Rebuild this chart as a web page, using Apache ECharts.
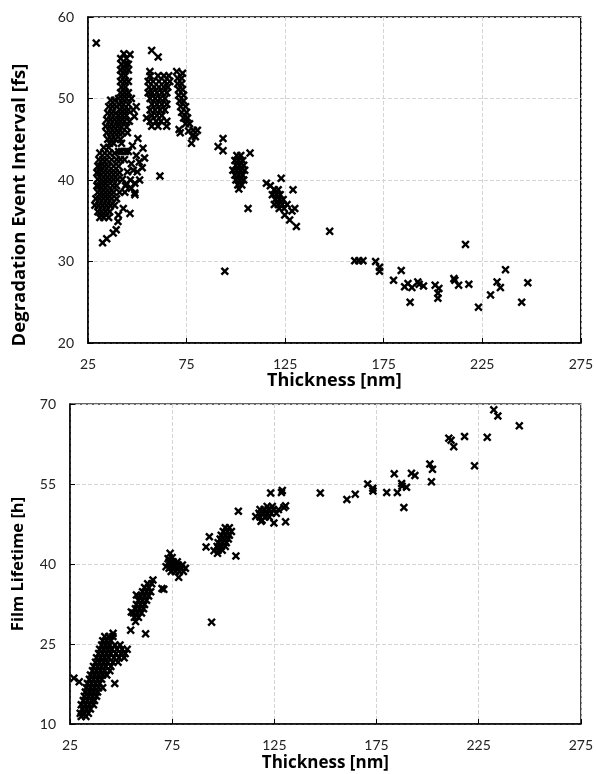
<!DOCTYPE html>
<html>
<head>
<meta charset="utf-8">
<script src="https://cdn.jsdelivr.net/npm/echarts@6/dist/echarts.min.js"></script>
<style>
  html, body { margin: 0; padding: 0; background: #fff; }
  #chart { width: 596px; height: 774px; }
</style>
</head>
<body>
<div id="chart"></div>
<script>
// Thickness axis ticks (nm), shared by both panels
const thicknessTicks = [25, 75, 125, 175, 225, 275];
const intervalTicks = [20, 30, 40, 50, 60];
const lifetimeTicks = [10, 25, 40, 55, 70];

// Upper panel: [thickness nm, degradation event interval fs]
const intervalPoints = [
  [29.2,56.8],
  // thin films, dense group
  [33.0,44.0],[35.5,44.0],
  [31.0,43.3],[33.5,43.3],[36.0,43.3],[38.5,43.3],
  [30.5,42.5],[32.5,42.5],[34.5,42.5],[37.0,42.5],[39.5,42.5],
  [30.0,41.7],[31.5,41.7],[33.5,41.7],[35.5,41.7],[38.0,41.7],[40.5,41.7],
  [29.5,40.9],[31.0,40.9],[33.0,40.9],[35.0,40.9],[37.0,40.9],[39.0,40.9],[41.0,40.9],
  [30.0,40.1],[32.0,40.1],[34.0,40.1],[36.0,40.1],[38.0,40.1],[40.0,40.1],[42.5,40.1],
  [29.5,39.3],[31.0,39.3],[33.0,39.3],[35.0,39.3],[37.5,39.3],[39.5,39.3],[44.0,39.3],
  [30.0,38.5],[32.0,38.5],[34.0,38.5],[36.0,38.5],[38.0,38.5],[41.0,38.5],[43.7,38.5],
  [29.0,37.7],[31.0,37.7],[33.0,37.7],[35.0,37.7],[37.0,37.7],[39.5,37.7],
  [28.5,36.9],[30.5,36.9],[32.5,36.9],[34.5,36.9],[36.5,36.9],[38.5,36.9],
  [30.0,36.1],[32.0,36.1],[34.0,36.1],[36.0,36.1],[42.9,36.5],
  [31.0,35.4],[33.0,35.4],[35.5,35.4],[40.4,35.7],
  [46.3,35.9],[48.8,38.2],[48.8,39.6],[40.2,34.9],[39.3,33.9],[37.8,33.5],[34.5,32.8],[32.4,32.3],
  [50.3,45.1],[52.9,43.9],[53.7,42.7],[51.2,40.0],[48.7,38.4],
  [47.5,44.2],[49.5,43.0],[51.0,42.2],[47.0,42.0],[45.5,43.5],[48.0,41.2],[50.0,41.0],
  [46.5,40.0],[45.0,41.0],[52.5,41.5],[44.5,39.5],[47.0,39.0],
  [36.5,49.8],[38.5,49.8],
  [35.5,49.0],[37.5,49.0],[39.5,49.0],
  [35.0,48.2],[37.0,48.2],[39.0,48.2],
  [34.5,47.4],[36.5,47.4],[38.5,47.4],[40.5,47.4],
  [34.0,46.6],[36.0,46.6],[38.0,46.6],[40.0,46.6],
  [34.5,45.8],[36.5,45.8],[38.5,45.8],[40.5,45.8],
  [35.0,45.0],[37.0,45.0],[39.0,45.0],[41.5,45.0],
  [36.0,44.5],[38.0,44.5],[42.0,44.5],
  [40.5,43.5],[42.0,43.5],[44.0,43.5],
  [41.5,42.5],[43.5,42.5],
  [43.2,55.5],[46.3,55.4],
  [41.6,54.9],[44.5,54.9],
  [42.0,54.2],[44.0,54.2],[45.5,54.2],
  [41.5,53.5],[43.5,53.5],[45.5,53.5],
  [42.0,52.8],[44.0,52.8],
  [41.5,52.1],[43.5,52.1],[45.5,52.1],
  [42.0,51.4],[44.0,51.4],
  [41.5,50.7],[43.5,50.7],[45.5,50.7],
  [40.5,50.0],[42.5,50.0],[44.5,50.0],[47.0,50.0],
  [41.0,49.3],[43.0,49.3],[45.5,49.3],[49.5,49.0],
  [41.5,48.6],[43.5,48.6],[45.5,48.6],[48.0,48.6],
  [40.5,47.9],[42.5,47.9],[44.5,47.9],[48.5,47.8],
  [41.5,47.2],[43.5,47.2],[46.0,47.2],
  [42.0,46.5],[44.6,46.5],
  [42.5,45.8],[45.0,45.8],
  // mid-range group
  [57.3,55.9],[60.6,55.1],[56.4,53.3],
  [56.5,52.8],[60.5,52.8],[63.5,52.8],[66.0,52.8],
  [55.5,52.1],[58.0,52.1],[61.0,52.1],[64.0,52.1],[66.5,52.1],
  [56.0,51.4],[58.5,51.4],[61.0,51.4],[63.5,51.4],[65.5,51.4],
  [55.5,50.7],[57.5,50.7],[60.0,50.7],[62.5,50.7],[65.0,50.7],
  [56.5,50.0],[59.0,50.0],[61.5,50.0],[64.0,50.0],
  [57.5,49.3],[60.0,49.3],[62.5,49.3],[65.0,49.3],
  [56.5,48.6],[59.0,48.6],[61.5,48.6],[64.0,48.6],
  [57.5,47.9],[60.0,47.9],[62.5,47.9],
  [56.5,47.2],[59.5,47.2],[62.0,47.2],[65.0,47.2],
  [57.3,46.6],[60.5,46.6],[64.9,46.6],
  [54.7,47.6],[61.5,40.5],
  [70.0,53.3],[73.0,53.1],
  [70.5,52.5],[72.5,52.5],
  [70.5,51.8],[72.5,51.8],
  [71.0,51.1],[73.0,51.1],
  [71.0,50.4],[73.5,50.4],
  [71.5,49.7],[73.5,49.7],
  [72.0,49.0],[74.5,49.0],
  [72.5,48.3],[75.0,48.3],
  [73.5,47.6],[75.5,47.6],
  [74.5,46.9],[76.5,46.9],
  [71.2,46.2],[71.8,45.8],[78.4,46.1],[80.5,46.1],[77.5,44.5],[79.5,45.3],[76.0,46.0],[78.0,45.4],
  [93.5,45.1],[91.0,44.1],[93.5,43.6],[94.4,28.8],
  [107.2,43.3],
  [100.5,43.0],[102.5,43.0],
  [99.5,42.4],[101.5,42.4],[103.5,42.4],
  [100.0,41.8],[102.0,41.8],[104.0,41.8],
  [98.5,41.2],[100.5,41.2],[102.5,41.2],[104.5,41.2],
  [99.5,40.6],[101.5,40.6],[103.5,40.6],
  [100.0,40.0],[102.0,40.0],[104.0,40.0],
  [101.0,39.4],[103.0,39.4],[101.5,38.9],
  [106.2,36.5],
  [115.5,39.6],[117.5,39.3],[123.0,40.2],[129.0,38.8],
  [119.5,38.8],[121.5,38.8],
  [118.5,38.2],[120.5,38.2],[122.5,38.2],
  [120.0,37.6],[122.0,37.6],[124.0,37.6],
  [119.5,37.0],[121.5,37.0],[123.5,37.0],[126.0,37.0],
  [122.0,36.5],[124.5,36.5],[129.9,36.5],
  [124.8,35.7],[127.3,35.1],[130.7,34.3],[128.5,36.2],
  // thick films
  [147.6,33.7],[160.3,30.1],[162.4,30.1],[164.5,30.1],[170.9,30.0],[172.9,29.3],[172.9,28.8],
  [180.0,27.7],[183.9,28.9],[185.6,26.9],[187.3,27.3],[188.4,25.0],[189.3,26.8],[192.3,27.5],
  [193.0,27.2],[195.2,27.0],[201.1,27.1],[203.0,26.7],[202.5,26.1],[202.5,25.5],[210.6,27.9],
  [211.1,27.7],[213.0,27.1],[216.5,32.1],[218.2,27.2],[223.1,24.4],[229.2,25.9],[232.5,27.5],
  [234.2,26.8],[236.8,29.0],[245.0,25.0],[248.1,27.4]
];

// Lower panel: [thickness nm, film lifetime h]
const lifetimePoints = [
  [26.9,18.6],[29.5,17.9],
  [30.5,11.4],[32.8,11.4],
  [30.0,12.0],[32.0,12.0],[34.0,12.0],
  [31.0,12.8],[33.0,12.8],[35.0,12.8],
  [30.5,13.6],[32.5,13.6],[34.5,13.6],[36.5,13.6],
  [31.5,14.4],[33.5,14.4],[35.5,14.4],[37.0,14.4],
  [32.0,15.2],[34.0,15.2],[36.0,15.2],[38.0,15.2],
  [32.5,16.0],[34.5,16.0],[36.5,16.0],[38.5,16.0],
  [33.0,16.8],[35.0,16.8],[37.0,16.8],[39.0,16.8],[41.0,16.8],
  [33.5,17.6],[35.5,17.6],[37.5,17.6],[39.5,17.6],[46.9,17.6],
  [34.5,18.4],[36.5,18.4],[38.5,18.4],[40.5,18.4],
  [35.0,19.2],[37.0,19.2],[39.0,19.2],[41.0,19.2],[43.0,19.2],
  [36.0,20.0],[38.0,20.0],[40.0,20.0],[42.0,20.0],[44.5,20.0],
  [36.5,20.8],[38.5,20.8],[40.5,20.8],[42.5,20.8],[45.0,20.8],
  [37.5,21.6],[39.5,21.6],[41.5,21.6],[43.5,21.6],[46.0,21.6],[48.5,21.6],
  [38.0,22.4],[40.0,22.4],[42.0,22.4],[44.0,22.4],[46.5,22.4],[49.0,22.4],[51.5,22.4],
  [39.0,23.2],[41.0,23.2],[43.0,23.2],[45.0,23.2],[47.5,23.2],[50.0,23.2],[52.0,23.2],
  [39.5,24.0],[41.5,24.0],[43.5,24.0],[45.5,24.0],[48.0,24.0],[50.5,24.0],[53.0,24.0],
  [40.5,24.8],[42.5,24.8],[44.5,24.8],[47.0,24.8],[49.5,24.8],
  [41.0,25.6],[43.0,25.6],[45.0,25.6],
  [42.0,26.4],[44.0,26.4],[46.0,26.4],[46.1,27.0],
  [54.7,27.6],[62.0,26.9],[57.1,29.2],[55.0,31.0],[57.5,34.2],[65.6,37.0],
  [56.5,30.0],[58.5,30.0],
  [56.0,30.8],[58.0,30.8],[60.0,30.8],
  [57.0,31.6],[59.0,31.6],[61.0,31.6],
  [57.5,32.4],[59.5,32.4],[61.5,32.4],
  [58.5,33.2],[60.5,33.2],[62.5,33.2],
  [59.5,34.0],[61.5,34.0],[63.5,34.0],
  [60.5,34.8],[62.5,34.8],[64.5,34.8],
  [61.5,35.6],[63.5,35.6],
  [63.0,36.3],[65.0,36.3],
  [70.9,35.25],[70.0,35.4],
  [74.0,42.0],[73.0,41.0],[75.0,41.2],
  [73.5,40.4],[75.5,40.4],[77.5,40.4],
  [74.0,39.8],[76.0,39.8],[78.0,39.8],[80.0,39.8],
  [73.5,39.2],[75.5,39.2],[77.5,39.2],[79.5,39.2],[81.5,39.2],
  [74.5,38.6],[76.5,38.6],[78.5,38.6],[80.5,38.6],
  [78.2,37.5],[72.0,39.5],
  [94.3,29.1],
  [91.6,43.2],[93.2,45.1],[97.2,42.0],[106.2,41.5],[107.4,49.9],[95.5,42.5],
  [97.5,42.6],[99.5,42.6],
  [97.0,43.3],[99.0,43.3],[101.0,43.3],
  [97.5,44.0],[99.5,44.0],[101.5,44.0],
  [98.5,44.7],[100.5,44.7],[102.5,44.7],
  [99.0,45.4],[101.0,45.4],[103.0,45.4],
  [100.0,46.1],[102.0,46.1],[104.0,46.1],
  [101.0,46.8],[103.0,46.8],
  [123.2,53.3],[128.9,53.8],[129.7,50.6],[130.5,47.9],[124.8,47.7],[115.9,48.9],[118.5,48.0],
  [128.5,53.4],[130.5,50.9],
  [121.5,50.8],[124.0,50.8],
  [118.0,50.2],[120.0,50.2],[122.0,50.2],[124.5,50.2],[127.0,50.2],
  [117.5,49.5],[119.5,49.5],[121.5,49.5],[123.5,49.5],[126.0,49.5],
  [118.0,48.8],[120.5,48.8],[122.5,48.8],[119.0,48.2],
  [147.5,53.3],[160.5,52.1],[164.6,53.1],[170.7,55.0],[173.2,54.2],[173.3,53.7],[180.0,53.4],
  [183.7,56.9],[185.2,53.4],[187.3,55.1],[187.5,54.6],[189.7,54.4],[188.4,50.6],[192.1,57.0],
  [193.8,56.6],[201.1,58.75],[202.4,57.75],[201.9,55.4],[210.4,63.6],[211.5,63.2],[212.8,62.0],
  [218.1,63.9],[223.0,58.4],[229.2,63.75],[232.4,68.9],[234.4,67.75],[244.9,65.9]
];

// Bold "x" marker outline
const crossMark = 'path://M0,2L2,0L5,3L8,0L10,2L7,5L10,8L8,10L5,7L2,10L0,8L3,5Z';

const LABEL_FONT = 'Lato, "Open Sans", sans-serif';
const TITLE_FONT = '"Open Sans", Lato, sans-serif';

function valueAxis(ticks, gridIndex, name, nameGap, titleSize, titlePadding) {
  const step = ticks[1] - ticks[0];
  return {
    type: 'value',
    gridIndex: gridIndex,
    min: ticks[0],
    max: ticks[ticks.length - 1],
    interval: step,
    name: name,
    nameLocation: 'middle',
    nameGap: nameGap,
    nameTextStyle: {
      fontFamily: TITLE_FONT, fontWeight: 'bold', fontSize: titleSize, color: '#000',
      padding: titlePadding || 0
    },
    axisLine: { show: true, onZero: false, lineStyle: { color: '#000', width: 1.5 } },
    axisTick: { show: true, inside: true, length: 5, lineStyle: { color: '#000', width: 1 } },
    axisLabel: { fontFamily: LABEL_FONT, fontSize: 14, color: '#222', margin: 14 },
    splitLine: { show: true, lineStyle: { color: '#d4d4d4', type: [4, 2], width: 1 } }
  };
}

const chart = echarts.init(document.getElementById('chart'), null, { renderer: 'canvas' });

chart.setOption({
  backgroundColor: '#fff',
  animation: false,
  grid: [
    { left: 88, top: 17, width: 494, height: 326, show: true, borderColor: '#000', borderWidth: 1.5, backgroundColor: 'transparent' },
    { left: 70, top: 404, width: 513, height: 320, show: true, borderColor: '#333', borderWidth: 1.5, backgroundColor: 'transparent' }
  ],
  xAxis: [
    valueAxis(thicknessTicks, 0, 'Thickness [nm]', 28, 18),
    valueAxis(thicknessTicks, 1, 'Thickness [nm]', 31, 17)
  ],
  yAxis: [
    // title sits a little below the panel's centre line
    valueAxis(intervalTicks, 0, 'Degradation Event Interval [fs]', 59, 18.5, [0, 50, 0, 0]),
    valueAxis(lifetimeTicks, 1, 'Film Lifetime [h]', 43, 16.5)
  ],
  series: [
    {
      type: 'scatter', xAxisIndex: 0, yAxisIndex: 0,
      data: intervalPoints,
      symbol: crossMark, symbolSize: 8.5,
      itemStyle: { color: '#000', opacity: 1 }
    },
    {
      type: 'scatter', xAxisIndex: 1, yAxisIndex: 1,
      data: lifetimePoints,
      symbol: crossMark, symbolSize: 8.5,
      itemStyle: { color: '#000', opacity: 1 }
    }
  ]
});
</script>
</body>
</html>
